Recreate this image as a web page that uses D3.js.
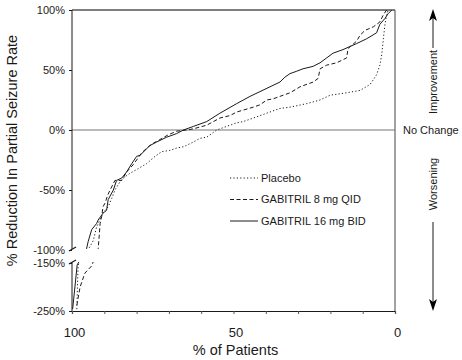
<!DOCTYPE html>
<html>
<head>
<meta charset="utf-8">
<script src="https://cdn.jsdelivr.net/npm/d3@7"></script>
<style>
    body { margin: 0; background: #fff; }
    svg { display: block; font-family: "Liberation Sans", Arial, sans-serif; }
</style>
</head>
<body>
<div id="chart"></div>
<script>
// Values: % of patients (x) vs % reduction (y)
const placeboPct = [98.5, 98.3, 98.1, 94.4, 93.4, 92.4, 90.4, 88.8, 87.7, 86.7, 85.1, 83.6, 82.0, 80.0, 76.9, 74.3, 72.2, 69.7, 67.6, 65.5, 62.4, 60.4, 58.3, 55.2, 52.1, 49.0, 47.0, 42.8, 38.7, 35.6, 32.5, 27.3, 23.2, 20.1, 15.0, 10.8, 7.7, 5.7, 4.7, 4.1, 3.6, 3.1, 2.6, 2.1];
const placeboRed = [-246, -196, -154, -97, -92, -81, -69, -64, -57, -50, -43, -39, -36, -33, -28, -22, -18, -17, -15, -14, -10, -7, -6, 0, 3, 6, 7, 11, 15, 18, 19, 22, 25, 29, 31, 33, 38, 46, 54, 63, 76, 88, 96, 100];

const qidPct = [98.5, 97.5, 96.0, 93.9, 91.9, 91.6, 91.3, 90.8, 90.4, 89.8, 88.9, 88.2, 86.7, 84.6, 83.1, 81.1, 80.0, 78.4, 76.4, 74.8, 72.8, 70.2, 67.6, 64.5, 62.4, 58.3, 54.2, 51.1, 49.0, 43.9, 41.8, 39.7, 37.7, 34.6, 32.5, 29.4, 25.3, 23.8, 23.2, 21.2, 18.1, 15.0, 14.5, 11.9, 10.8, 9.3, 6.7, 4.7, 3.6, 2.6];
const qidRed = [-238, -200, -171, -156, -99, -89, -78, -72, -64, -61, -54, -50, -42, -42, -35, -29, -25, -19, -14, -11, -8, -4, -1, 0, 1, 4, 10, 12, 15, 19, 21, 25, 26, 29, 31, 36, 40, 43, 51, 54, 56, 60, 68, 74, 79, 83, 86, 90, 96, 100];

const bidPct = [99.8, 98.4, 95.5, 95.0, 93.9, 92.4, 91.9, 90.3, 89.3, 88.8, 87.2, 86.2, 84.6, 83.1, 81.5, 80.0, 78.9, 75.9, 73.8, 70.7, 67.6, 65.5, 62.4, 58.3, 54.2, 49.0, 44.9, 41.8, 38.7, 35.6, 34.1, 32.5, 30.4, 28.5, 25.4, 23.2, 21.2, 19.2, 16.1, 11.9, 8.8, 5.7, 4.7, 3.1, 2.1, 1.0];
const bidRed = [-246, -154, -99, -93, -83, -78, -75, -69, -67, -58, -50, -42, -40, -35, -28, -22, -21, -13, -10, -6, -3, 0, 3, 7, 14, 22, 28, 32, 36, 40, 44, 47, 49, 51, 53, 56, 60, 64, 67, 72, 76, 81, 88, 93, 97, 100];

const seriesNames = ["Placebo", "GABITRIL 8 mg QID", "GABITRIL 16 mg BID"];
const yTicks = [100, 50, 0, -50, -100, -150, -250];
const xTicks = [100, 90, 80, 70, 60, 50, 40, 30, 20, 10, 0];
const xLabels = [100, 50, 0];

const series = [
    { name: seriesNames[0], pct: placeboPct, red: placeboRed, dash: "1.2,2.2" },
    { name: seriesNames[1], pct: qidPct, red: qidRed, dash: "4,2.5" },
    { name: seriesNames[2], pct: bidPct, red: bidRed, dash: null }
];

const svg = d3
    .select("#chart")
    .append("svg")
    .attr("width", 462)
    .attr("height", 360);

const x = d3.scaleLinear().domain([100, 0]).range([72, 395]);
// broken axis: -100..100 on top, -250..-150 squeezed below the break
const y = d3.scaleLinear().domain([-250, -150, -100, 100]).range([311, 263, 250, 10]);

const ink = "#1a1a1a";

// clip away the gap between the two axis parts
const clip = svg.append("defs").append("clipPath").attr("id", "brk");
clip.append("rect").attr("x", x(100) - 2).attr("y", 0).attr("width", x(0) - x(100) + 4).attr("height", y(-100) - 1);
clip.append("rect").attr("x", x(100) - 2).attr("y", y(-150) - 1).attr("width", x(0) - x(100) + 4).attr("height", y(-250) - y(-150) + 2);

// frame: top line, right edge, no-change line
svg.append("line")
    .attr("x1", x(100)).attr("x2", x(0))
    .attr("y1", y(100)).attr("y2", y(100))
    .attr("stroke", "#555").attr("stroke-width", 1.3);
svg.append("line")
    .attr("x1", x(0)).attr("x2", x(0))
    .attr("y1", y(100)).attr("y2", y(-250))
    .attr("stroke", "#444").attr("stroke-width", 1);
svg.append("line")
    .attr("x1", x(100)).attr("x2", x(0))
    .attr("y1", y(0)).attr("y2", y(0))
    .attr("stroke", "#777").attr("stroke-width", 1.2);

// x axis
const xAxis = svg.append("g")
    .attr("transform", `translate(0,${y(-250)})`)
    .call(d3.axisBottom(x).tickValues(xTicks).tickSize(3).tickPadding(14)
        .tickFormat(d => xLabels.includes(d) ? d : ""));
xAxis.select(".domain").attr("stroke", ink).attr("stroke-width", 1.2);
xAxis.selectAll(".tick line").attr("stroke", "#555");
xAxis.selectAll("text").attr("font-size", 13).attr("fill", ink).attr("dx", 2);

// y axis with break
const yAxis = svg.append("g")
    .attr("transform", `translate(${x(100)},0)`)
    .call(d3.axisLeft(y).tickValues(yTicks).tickSize(3).tickPadding(4)
        .tickFormat(d => d + "%"));
yAxis.select(".domain").remove();
yAxis.selectAll(".tick line").attr("stroke", ink);
yAxis.selectAll("text").attr("font-size", 11).attr("fill", ink);

yAxis.append("line")
    .attr("x1", 0).attr("x2", 0)
    .attr("y1", y(100)).attr("y2", y(-100) - 1)
    .attr("stroke", ink);
yAxis.append("line")
    .attr("x1", 0).attr("x2", 0)
    .attr("y1", y(-150) - 1).attr("y2", y(-250))
    .attr("stroke", ink);
[y(-100) - 1, y(-150) - 1].forEach(v => {
    yAxis.append("line")
        .attr("x1", -3).attr("x2", 4)
        .attr("y1", v + 2).attr("y2", v - 2)
        .attr("stroke", ink).attr("stroke-width", 1.2);
});

// curves
const line = d3.line()
    .x(d => x(d[0]))
    .y(d => y(d[1]));

svg.append("g")
    .attr("clip-path", "url(#brk)")
    .selectAll("path")
    .data(series)
    .enter()
    .append("path")
    .attr("d", s => line(d3.zip(s.pct, s.red)))
    .attr("fill", "none")
    .attr("stroke", ink)
    .attr("stroke-width", 1)
    .attr("stroke-dasharray", s => s.dash);

// legend
const legend = svg.append("g")
    .selectAll("g")
    .data(series)
    .enter()
    .append("g")
    .attr("transform", (d, i) => `translate(230,${178 + i * 21.5})`);

legend.append("line")
    .attr("x1", 0).attr("x2", 28)
    .attr("stroke", ink)
    .attr("stroke-dasharray", d => d.dash);

legend.append("text")
    .attr("x", 31)
    .attr("dy", "0.35em")
    .attr("font-size", 11)
    .attr("fill", ink)
    .text(d => d.name);

// axis titles
svg.append("text")
    .attr("transform", `translate(17,${(y(100) + y(-250)) / 2 - 10}) rotate(-90)`)
    .attr("text-anchor", "middle")
    .attr("font-size", 14.5)
    .attr("fill", ink)
    .text("% Reduction In Partial Seizure Rate");

svg.append("text")
    .attr("x", x(50) + 2)
    .attr("y", 355)
    .attr("text-anchor", "middle")
    .attr("font-size", 14.5)
    .attr("fill", ink)
    .text("% of Patients");

// right side annotations
const ax = 433;
const tipUp = y(100) - 1;
const tipDown = y(-250);

svg.append("line")
    .attr("x1", ax).attr("x2", ax)
    .attr("y1", 48).attr("y2", tipUp + 6)
    .attr("stroke", ink);
svg.append("path")
    .attr("d", `M${ax},${tipUp}L${ax + 4},${tipUp + 12}L${ax},${tipUp + 9}L${ax - 4},${tipUp + 12}Z`)
    .attr("fill", "#000");

svg.append("text")
    .attr("transform", `translate(${ax + 4},82) rotate(-90)`)
    .attr("text-anchor", "middle")
    .attr("font-size", 11)
    .attr("fill", ink)
    .text("Improvement");

svg.append("text")
    .attr("x", 403)
    .attr("y", y(0) + 4)
    .attr("font-size", 11)
    .attr("fill", ink)
    .text("No Change");

svg.append("text")
    .attr("transform", `translate(${ax + 4},184) rotate(-90)`)
    .attr("text-anchor", "middle")
    .attr("font-size", 11)
    .attr("fill", ink)
    .text("Worsening");

svg.append("line")
    .attr("x1", ax).attr("x2", ax)
    .attr("y1", 222).attr("y2", tipDown - 6)
    .attr("stroke", ink);
svg.append("path")
    .attr("d", `M${ax},${tipDown}L${ax + 4},${tipDown - 12}L${ax},${tipDown - 9}L${ax - 4},${tipDown - 12}Z`)
    .attr("fill", "#000");
</script>
</body>
</html>
